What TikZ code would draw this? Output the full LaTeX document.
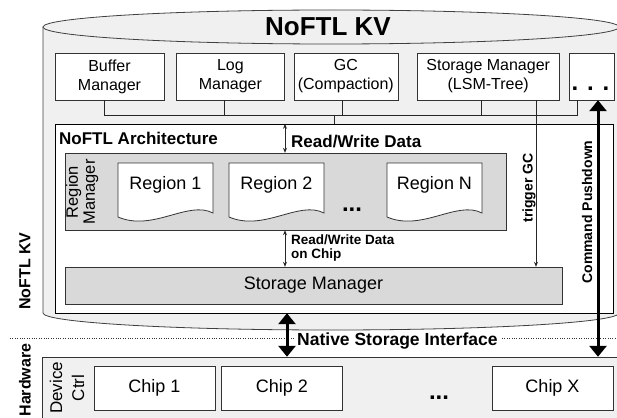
\documentclass[tikz,border=0pt]{standalone}
\usepackage{fontspec}
\setmainfont{Liberation Sans}
\usepackage{tikz}
\usetikzlibrary{positioning,arrows.meta}

\begin{document}
\begin{tikzpicture}[x=1pt,y=-1pt,
  comp/.style={draw=black!80,fill=white,inner sep=0pt,align=center,minimum height=47pt,font=\fontsize{16}{19}\selectfont},
  graybox/.style={draw=black!80,fill=black!15,inner sep=0pt},
  chip/.style={draw=black!80,fill=white,inner sep=0pt,minimum width=121pt,minimum height=44pt,font=\fontsize{18}{21}\selectfont},
  lbl/.style={inner sep=0pt,font=\bfseries\fontsize{17}{20}\selectfont},
  smalllbl/.style={inner sep=0pt,align=left,font=\bfseries\fontsize{13.5}{14}\selectfont},
  wire/.style={draw=black!85,line width=0.8pt},
  rw/.style={wire,{Stealth[length=5pt,width=4pt]}-{Stealth[length=5pt,width=4pt]}},
  bigarrow/.style={line width=3pt,{Triangle[length=11pt,width=17pt]}-{Triangle[length=11pt,width=17pt]}},
  docshape/.style={draw=black!80,fill=white,line width=0.8pt},
  dotlbl/.style={inner sep=0pt,font=\bfseries\fontsize{24}{24}\selectfont}]
\useasboundingbox (0,0) rectangle (617,417);

\path[draw=black!75,fill=black!6,line width=0.8pt] (43,27) -- (43,313)
  arc[start angle=180,end angle=0,x radius=288,y radius=17] -- (619,27);
\draw[black!75,line width=0.8pt,fill=black!6] (331,27) ellipse[x radius=288,y radius=17];
\node[anchor=base,inner sep=0pt,font=\bfseries\fontsize{26}{28}\selectfont] (title) at (328,36) {NoFTL KV};

\node[comp,minimum width=109pt] (buffer) at (109.5,76.5) {Buffer\\Manager};
\node[comp,minimum width=108pt,right=12pt of buffer] (logmgr) {Log\\Manager};
\node[comp,minimum width=104pt,right=9pt of logmgr] (gc) {GC\\(Compaction)};
\node[comp,minimum width=142pt,right=19pt of gc] (storagemgr) {Storage Manager\\(LSM-Tree)};
\node[comp,minimum width=45pt,right=10pt of storagemgr] (more) {};
\node[dotlbl,anchor=base] (moredots) at (590.5,91) {. . .};

\node[draw=black,fill=white,inner sep=0pt,minimum width=558pt,minimum height=189pt] (arch) at (334,218.5) {};
\node[lbl,anchor=base west] (archlbl) at (59,144) {NoFTL Architecture};

\draw[wire] ([xshift=-5.5pt]buffer.south) -- ++(0,15) -| ([xshift=-14.5pt]more.south);
\draw[wire] ([xshift=-6pt]logmgr.south) -- ++(0,15);
\draw[wire] ([xshift=-3pt]gc.south) -- ++(0,15);
\draw[wire] ([xshift=-7pt]storagemgr.south) -- ++(0,15);
\coordinate (archlink) at (334,115);
\draw[wire] (archlink) -- (archlink |- arch.north);

\node[graybox,minimum width=441pt,minimum height=77pt] (regionmgr) at (285.5,191.5) {};
\node[rotate=90,align=center,inner sep=0pt,font=\fontsize{16.5}{17}\selectfont] (rmlbl) at (82,192) {Region\\Manager};
\foreach \x/\t/\n in {118/Region 1/r1,229/Region 2/r2,387/Region N/rN}{
  \draw[docshape] (\x,163) -- ++(95,0) -- ++(0,50) .. controls +(-25,-13) and +(35,15) .. (\x,217) -- cycle;
  \node[inner sep=0pt,font=\fontsize{18}{20}\selectfont] (\n) at (\x+47.5,185) {\t};
}
\node[dotlbl,anchor=base] (regdots) at (352,211) {...};

\node[graybox,minimum width=497pt,minimum height=37pt,font=\fontsize{18}{20}\selectfont] (storage) at (313.5,285.5) {Storage Manager};

\coordinate (rwx) at (285,0);
\draw[rw] (arch.north -| rwx) -- (regionmgr.north -| rwx);
\node[lbl,anchor=base west] (rwlbl) at (291,147) {Read/Write Data};
\draw[rw] (regionmgr.south -| rwx) -- (storage.north -| rwx);
\node[smalllbl,anchor=north west] (rwchip) at (291,234.5) {Read/Write Data\\on Chip};

\coordinate (gcx) at (536,0);
\draw[wire,-{Stealth[length=5pt,width=4pt]}] (storagemgr.south -| gcx) -- (storage.north -| gcx);
\node[smalllbl,rotate=90,font=\bfseries\fontsize{14}{14}\selectfont] (gclbl) at (529,188) {trigger GC};

\node[draw=black!80,fill=black!6,inner sep=0pt,minimum width=588pt,minimum height=73pt] (hw) at (336,393.5) {};
\node[rotate=90,align=center,inner sep=0pt,font=\fontsize{17}{22}\selectfont] (devctrl) at (67,388) {Device\\Ctrl};
\node[chip] (chip1) at (154.5,388) {Chip 1};
\node[chip,right=6pt of chip1] (chip2) {Chip 2};
\node[chip] (chipX) at (552.5,388) {Chip X};
\node[dotlbl,anchor=base] (hwdots) at (439,399) {...};

\draw[dotted,black!80] (10,338) -- (617,338);
\node[anchor=base west,fill=white,inner xsep=3pt,inner ysep=0pt,font=\bfseries\fontsize{17.5}{20}\selectfont] (nsi) at (294,345) {Native Storage Interface};
\coordinate (nsx) at (287,0);
\draw[bigarrow] (arch.south -| nsx) -- (hw.north -| nsx);

\coordinate (cpx) at (598,0);
\draw[bigarrow] (more.south -| cpx) -- (hw.north -| cpx);
\node[lbl,rotate=90,font=\bfseries\fontsize{14}{14}\selectfont] (cplbl) at (587,212) {Command Pushdown};

\node[lbl,rotate=90,font=\bfseries\fontsize{16}{16}\selectfont] (kvlbl) at (25,271) {NoFTL KV};
\node[lbl,rotate=90,font=\bfseries\fontsize{16}{16}\selectfont] (hwlbl) at (25,380) {Hardware};
\end{tikzpicture}
\end{document}
